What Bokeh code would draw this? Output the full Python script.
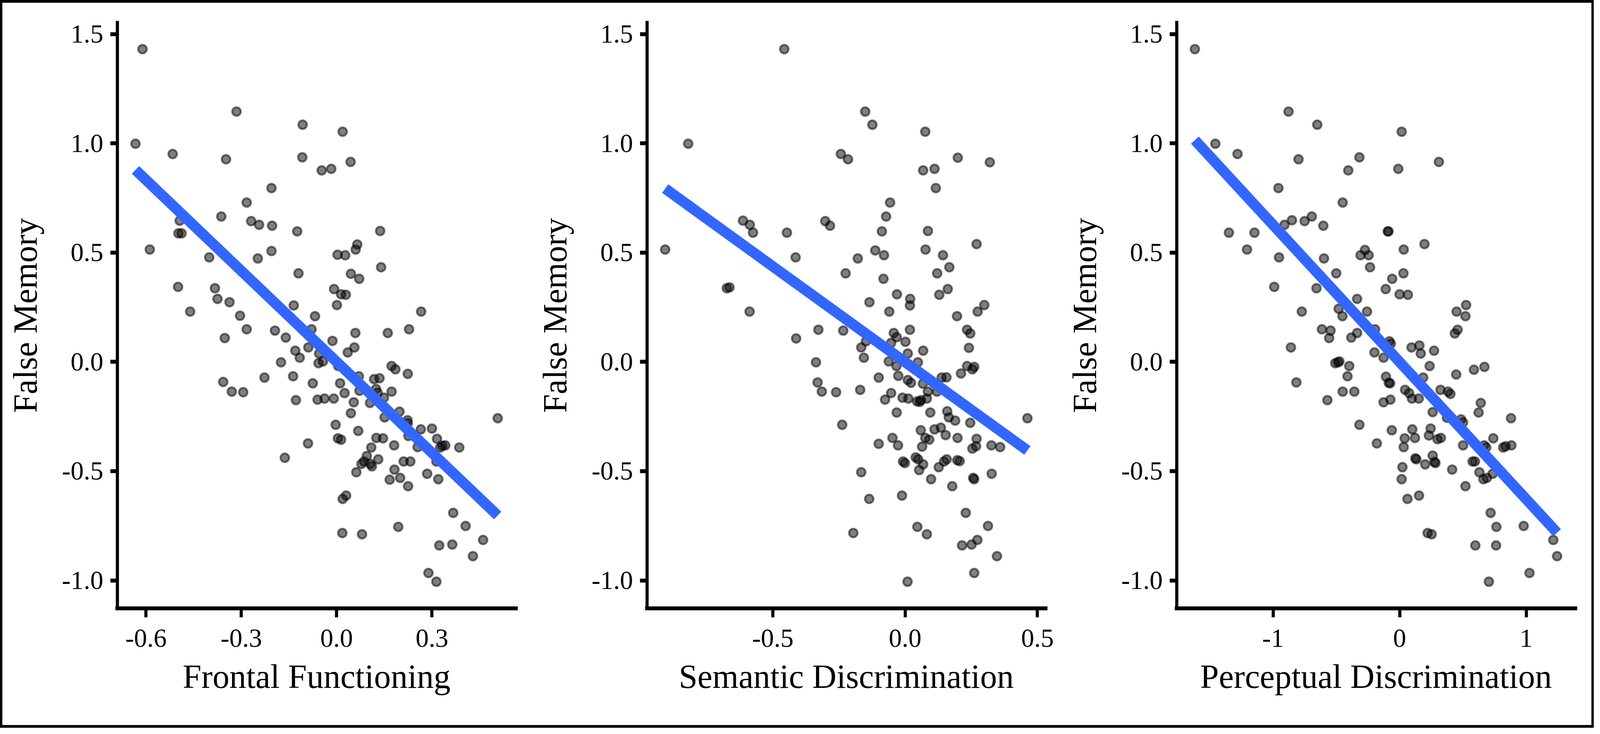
import numpy as np
from bokeh.plotting import figure
from bokeh.layouts import row, column
from bokeh.models import FixedTicker, Range1d, Spacer
from bokeh.embed import file_html
from bokeh.resources import INLINE

# ---------------- data ----------------
false_memory_label = "False Memory"

frontal_x = [-0.611,-0.633,-0.315,-0.516,-0.348,-0.107,-0.108,0.019,-0.047,-0.017,
0.044,-0.205,-0.283,-0.363,-0.269,-0.244,-0.203,-0.494,-0.498,-0.488,
-0.588,-0.401,-0.248,-0.205,-0.124,0.137,0.065,0.060,0.003,0.027,
0.140,-0.120,0.045,0.071,-0.499,-0.383,-0.375,-0.337,-0.461,-0.304,
-0.283,-0.352,-0.194,-0.160,-0.135,-0.068,-0.008,0.014,0.029,0.001,
0.266,0.228,0.161,0.059,0.056,0.035,-0.013,-0.079,-0.089,-0.130,
-0.116,-0.055,-0.057,-0.043,-0.175,-0.357,-0.330,-0.294,-0.227,-0.137,
-0.075,-0.128,-0.060,-0.038,-0.009,0.005,0.011,0.025,0.054,0.045,
0.072,0.070,0.118,0.135,0.124,0.129,0.149,0.105,0.173,0.185,
0.224,0.173,0.151,0.198,0.223,0.224,0.265,0.300,0.226,0.316,
0.333,0.342,0.326,0.386,0.507,-0.003,0.004,0.014,0.068,0.125,
0.146,-0.090,-0.163,0.109,0.095,0.131,0.086,0.078,0.106,0.111,
0.062,0.181,0.211,0.232,0.182,0.200,0.167,0.225,0.255,0.285,
0.320,0.314,0.019,0.030,0.367,0.406,0.461,0.018,0.080,0.194,
0.323,0.364,0.429,0.289,0.314]
frontal_y = [1.431,0.998,1.145,0.951,0.927,1.085,0.936,1.053,0.876,0.883,
0.915,0.795,0.729,0.665,0.644,0.627,0.623,0.646,0.588,0.588,
0.514,0.478,0.473,0.507,0.597,0.599,0.537,0.514,0.490,0.488,
0.433,0.405,0.403,0.380,0.343,0.337,0.288,0.273,0.230,0.211,
0.149,0.109,0.143,0.111,0.258,0.209,0.333,0.309,0.307,0.260,
0.230,0.149,0.132,0.132,0.066,0.043,0.096,0.149,0.066,0.051,
0.019,0.038,-0.006,0.002,-0.002,-0.092,-0.136,-0.139,-0.072,-0.066,
-0.098,-0.175,-0.173,-0.168,-0.168,-0.019,-0.098,-0.143,-0.185,-0.235,
-0.132,-0.066,-0.079,-0.075,-0.124,-0.141,-0.164,-0.188,-0.019,-0.034,
-0.055,-0.136,-0.254,-0.228,-0.267,-0.281,-0.309,-0.305,-0.339,-0.352,
-0.384,-0.382,-0.392,-0.392,-0.258,-0.288,-0.350,-0.356,-0.316,-0.348,
-0.350,-0.373,-0.439,-0.392,-0.431,-0.446,-0.456,-0.467,-0.467,-0.478,
-0.505,-0.382,-0.456,-0.456,-0.493,-0.531,-0.539,-0.569,-0.390,-0.512,
-0.537,-0.456,-0.627,-0.612,-0.691,-0.751,-0.815,-0.783,-0.789,-0.755,
-0.840,-0.836,-0.889,-0.966,-1.006]

semantic_x = [-0.907,-0.820,-0.457,-0.613,-0.587,-0.575,-0.674,-0.664,-0.588,-0.447,
-0.414,-0.412,-0.328,-0.302,-0.284,-0.243,-0.216,-0.151,-0.124,-0.225,
-0.179,-0.135,-0.234,-0.337,-0.331,-0.315,-0.261,-0.238,-0.170,-0.166,
-0.156,-0.148,-0.113,-0.082,-0.080,-0.088,-0.072,-0.057,-0.031,-0.060,
0.019,0.018,0.018,-0.043,-0.032,-0.053,0.001,0.010,-0.062,-0.033,
-0.026,-0.100,-0.053,-0.076,-0.010,0.012,-0.032,0.010,0.022,0.048,
0.068,0.067,0.045,0.055,0.060,0.082,0.095,0.138,0.156,0.086,
0.120,0.159,0.165,0.189,0.211,0.234,0.254,0.261,0.241,0.234,
0.246,0.196,0.274,0.299,0.270,0.320,0.199,0.076,0.068,0.111,
0.116,0.086,0.077,0.143,0.167,0.121,0.161,0.129,0.246,0.059,
0.111,0.135,0.153,0.076,0.091,0.064,-0.048,-0.027,-0.100,-0.008,
-0.001,0.040,0.049,0.068,0.053,0.098,0.127,0.147,0.157,0.198,
0.197,0.206,0.178,0.270,0.254,0.268,0.326,0.359,0.257,0.261,
0.327,0.462,-0.166,-0.136,-0.012,-0.196,0.046,0.082,0.229,0.313,
0.273,0.215,0.251,0.347,0.261,0.009]
semantic_y = [0.514,0.998,1.431,0.646,0.627,0.591,0.337,0.341,0.230,0.591,
0.478,0.107,0.147,0.644,0.623,0.951,0.927,1.145,1.085,0.405,
0.473,0.273,0.143,-0.002,-0.094,-0.136,-0.139,-0.288,-0.128,0.066,
0.019,0.094,0.510,0.380,0.488,0.597,0.665,0.729,0.309,0.230,
0.288,0.258,0.147,0.132,0.113,0.087,0.092,0.038,0.002,-0.019,
-0.064,-0.072,-0.143,-0.173,-0.164,-0.168,-0.232,-0.083,-0.096,-0.002,
0.051,-0.100,-0.181,-0.183,-0.175,-0.168,-0.232,-0.072,-0.071,-0.136,
-0.136,-0.226,-0.254,-0.269,-0.053,-0.019,-0.034,-0.023,0.064,0.147,
0.130,0.209,0.230,0.260,0.539,0.913,0.934,1.053,0.876,0.883,
0.795,0.599,0.514,0.488,0.433,0.405,0.333,0.307,-0.279,-0.313,
-0.309,-0.301,-0.335,-0.348,-0.356,-0.388,-0.348,-0.382,-0.375,-0.456,
-0.463,-0.437,-0.446,-0.469,-0.495,-0.537,-0.482,-0.456,-0.446,-0.348,
-0.450,-0.454,-0.569,-0.352,-0.397,-0.386,-0.382,-0.390,-0.531,-0.537,
-0.512,-0.258,-0.505,-0.627,-0.612,-0.783,-0.755,-0.789,-0.691,-0.751,
-0.815,-0.840,-0.836,-0.889,-0.966,-1.006]

perceptual_x = [-1.618,-1.456,-1.281,-1.349,-1.147,-1.206,-0.991,-0.958,-0.953,-0.910,
-0.851,-0.878,-0.799,-0.751,-0.694,-0.651,-0.603,-0.598,-0.657,-0.773,
-0.859,-0.816,-0.614,-0.546,-0.557,-0.501,-0.482,-0.452,-0.406,-0.450,
-0.318,-0.336,-0.309,-0.274,-0.245,-0.234,-0.258,-0.194,-0.336,-0.382,
-0.199,-0.127,-0.509,-0.487,-0.476,-0.398,-0.412,-0.450,-0.358,-0.571,
-0.318,-0.180,-0.062,-0.127,-0.073,-0.108,-0.086,-0.075,-0.110,-0.059,
-0.094,-0.088,-0.011,0.016,0.310,0.032,0.030,0.000,0.065,0.196,
-0.081,-0.070,0.094,0.156,0.167,0.272,0.237,0.186,0.043,0.075,
0.097,0.151,0.323,0.382,0.401,0.261,0.374,0.447,0.436,0.458,
0.450,0.525,0.520,0.587,0.670,0.641,0.624,0.485,0.501,0.880,
0.100,0.121,0.040,0.032,0.245,0.231,0.299,0.326,0.124,0.132,
0.261,0.275,0.283,0.202,0.022,0.016,0.062,0.153,0.415,0.501,
0.520,0.576,0.595,0.630,0.662,0.689,0.735,0.668,0.684,0.740,
0.818,0.837,0.883,0.221,0.253,0.719,0.764,0.980,1.214,1.244,
0.598,0.762,1.026,0.705]
perceptual_y = [1.431,0.998,0.951,0.591,0.591,0.514,0.343,0.795,0.478,0.627,
0.648,1.145,0.927,0.644,0.665,1.085,0.623,0.473,0.337,0.230,
0.066,-0.094,0.149,0.143,0.109,0.405,0.243,0.209,0.876,0.729,
0.936,0.288,0.488,0.512,0.488,0.433,0.230,0.149,0.132,0.111,
0.043,0.019,-0.006,-0.002,0.002,-0.019,-0.066,-0.136,-0.136,-0.175,
-0.288,-0.373,-0.313,-0.185,-0.173,-0.068,-0.096,-0.098,0.333,0.380,
0.597,0.597,0.883,1.053,0.915,0.514,0.405,0.309,0.307,0.539,
0.094,0.083,0.066,0.075,0.038,0.051,-0.019,-0.072,-0.128,-0.143,
-0.168,-0.168,-0.128,-0.136,-0.147,-0.230,-0.256,-0.058,0.130,0.147,
0.230,0.260,0.209,-0.036,-0.023,-0.188,-0.232,-0.263,-0.277,-0.258,
-0.309,-0.348,-0.350,-0.390,-0.305,-0.337,-0.354,-0.348,-0.441,-0.446,
-0.429,-0.458,-0.463,-0.469,-0.482,-0.537,-0.627,-0.612,-0.493,-0.382,
-0.569,-0.456,-0.456,-0.505,-0.537,-0.531,-0.512,-0.382,-0.392,-0.350,
-0.392,-0.386,-0.382,-0.783,-0.789,-0.691,-0.755,-0.751,-0.815,-0.889,
-0.840,-0.840,-0.966,-1.006]

y_ticks = [-1.0, -0.5, 0.0, 0.5, 1.0, 1.5]
y_tick_labels = ["-1.0", "-0.5", "0.0", "0.5", "1.0", "1.5"]

frontal_ticks = [-0.6, -0.3, 0.0, 0.3]
frontal_tick_labels = ["-0.6", "-0.3", "0.0", "0.3"]
semantic_ticks = [-0.5, 0.0, 0.5]
semantic_tick_labels = ["-0.5", "0.0", "0.5"]
perceptual_ticks = [-1, 0, 1]
perceptual_tick_labels = ["-1", "0", "1"]

panels = [
    ("Frontal Functioning", frontal_x, frontal_y, frontal_ticks, frontal_tick_labels),
    ("Semantic Discrimination", semantic_x, semantic_y, semantic_ticks, semantic_tick_labels),
    ("Perceptual Discrimination", perceptual_x, perceptual_y, perceptual_ticks, perceptual_tick_labels),
]

FONT = "Liberation Serif"
BORDER_V = 6   # left / right frame bars
BORDER_H = 7   # top / bottom frame bars
W, H = 1356, 1848


def padded(vals, frac=0.05):
    lo, hi = min(vals), max(vals)
    d = (hi - lo) * frac
    return lo - d, hi + d


figs = []
for title, xs, ys, xt, xtl in panels:
    x0, x1 = padded(xs)
    y0, y1 = padded(ys)
    p = figure(width=W, height=H, output_backend="svg", toolbar_location=None,
               x_range=Range1d(x0, x1), y_range=Range1d(y0, y1),
               min_border_left=294, min_border_right=42,
               min_border_top=50, min_border_bottom=299)
    p.grid.visible = False
    p.outline_line_color = None
    p.background_fill_color = "white"
    p.border_fill_color = "white"

    p.scatter(xs, ys, size=22, fill_color="black", fill_alpha=0.5,
              line_color="black", line_alpha=0.5, line_width=5)

    slope, intercept = np.polyfit(np.array(xs), np.array(ys), 1)
    lx = np.array([min(xs), max(xs)])
    p.line(lx, slope * lx + intercept, line_color="#3366FF", line_width=27)

    for ax, ticks, labels in ((p.xaxis[0], xt, xtl), (p.yaxis[0], y_ticks, y_tick_labels)):
        ax.ticker = FixedTicker(ticks=ticks)
        ax.major_label_overrides = {t: l for t, l in zip(ticks, labels)}
        ax.minor_tick_line_color = None
        ax.major_tick_in = 0
        ax.major_tick_line_color = "black"
        ax.axis_line_color = "black"
        ax.axis_line_cap = "square"
        ax.major_label_text_font = FONT
        ax.major_label_text_font_size = "67px"
        ax.major_label_text_color = "black"
        ax.axis_label_text_font = FONT
        ax.axis_label_text_font_size = "86px"
        ax.axis_label_text_font_style = "normal"
        ax.axis_label_text_color = "black"
    # x axis: vertical ticks, horizontal line
    p.xaxis.axis_line_width = 10
    p.xaxis.major_tick_out = 23
    p.xaxis.major_tick_line_width = 8
    # y axis: horizontal ticks, vertical line
    p.yaxis.axis_line_width = 8
    p.yaxis.major_tick_out = 18
    p.yaxis.major_tick_line_width = 10

    p.xaxis.axis_label = title
    p.yaxis.axis_label = false_memory_label
    p.xaxis.major_label_standoff = 31
    p.yaxis.major_label_standoff = 18
    p.xaxis.axis_label_standoff = 25
    p.yaxis.axis_label_standoff = 42
    figs.append(p)

total_w = 3 * W + 2 * BORDER_V
bar = dict(styles={"background-color": "black"})
middle = row(Spacer(width=BORDER_V, height=H, **bar), *figs,
             Spacer(width=BORDER_V, height=H, **bar))
layout = column(Spacer(width=total_w, height=BORDER_H, **bar), middle,
                Spacer(width=total_w, height=BORDER_H, **bar))

open("out.html", "w").write(file_html(layout, INLINE))
